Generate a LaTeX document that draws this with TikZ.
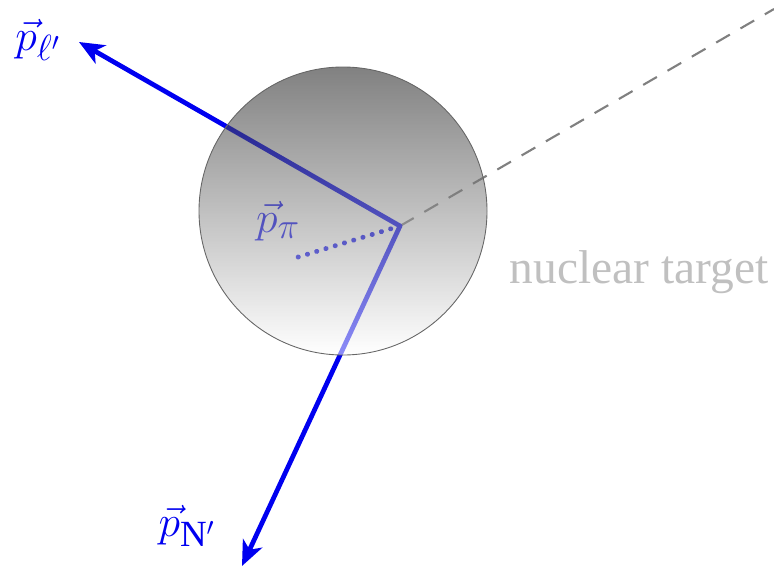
\documentclass[tikz,border=0pt]{standalone}
\usepackage{fontspec}
\setmainfont{Liberation Serif}
\usetikzlibrary{arrows.meta, positioning, calc}
\definecolor{mom}{HTML}{0000F0}
\definecolor{faint}{HTML}{C0C0C0}

\begin{document}
\begin{tikzpicture}[
  font=\fontsize{27}{30}\selectfont,
  momarrow/.style={-{Stealth[length=5mm, width=4.2mm, inset=1.4mm]}, draw=mom, line width=2.7pt},
  pionline/.style={draw=mom, line width=2.8pt, line cap=round, dash pattern=on 0.1pt off 5.4pt},
  beamline/.style={draw=black!50, line width=1.2pt, dash pattern=on 9pt off 7pt},
  lbl/.style={text=mom, inner sep=0pt, font=\fontsize{30}{32}\selectfont},
  target/.style={circle, draw=black!60, line width=0.5pt, top color=black!90,
                 bottom color=white, fill opacity=0.55, minimum size=5.76cm}]
\useasboundingbox (0,0) rectangle (15.48,11.36);

% interaction point and free ends
\coordinate (vtx) at (8.00,6.84);
\coordinate (beam) at (15.48,11.18);
\coordinate (lep) at (1.58,10.52);
\coordinate (nuc) at (4.84,0.04);
\coordinate (pion) at (5.90,6.20);

\draw[beamline] (vtx) -- (beam);
\draw[momarrow] (vtx) -- (lep);
\draw[momarrow] (vtx) -- (nuc);
\draw[pionline] (vtx) -- (pion);
\node[lbl] (ppi) at (5.56,6.94) {$\vec p_\pi$};

% nucleus drawn over the tracks
\node[target] (nucleus) at (6.86,7.14) {};

\node[lbl] (plep) at (0.76,10.56) {$\vec p_{\ell'}$};
\node[lbl] (pnuc) at (3.74,0.84) {$\vec p_{\mathrm{N}'}$};
\node[text=faint, inner sep=0pt] (tname) at (12.78,5.92) {nuclear target};
\end{tikzpicture}
\end{document}
